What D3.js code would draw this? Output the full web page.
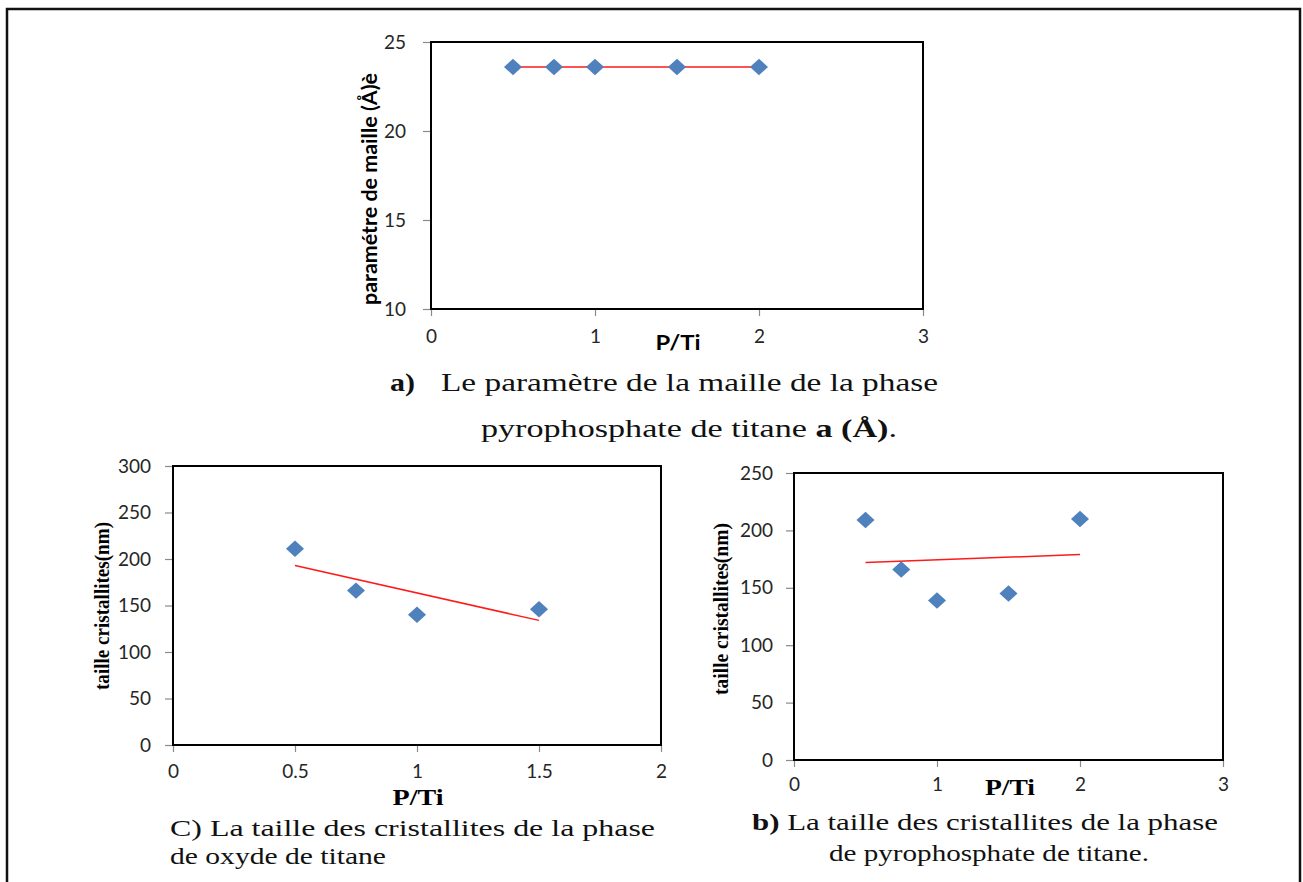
<!DOCTYPE html>
<html><head><meta charset="utf-8">
<script src="https://cdn.jsdelivr.net/npm/d3@7"></script>
<style>body{margin:0;background:#fff}svg{display:block}</style>
</head><body>
<svg id="c" width="1303" height="882"></svg>
<script>
// ---------- data ----------
const ratioTop = [0.5, 0.75, 1, 1.5, 2];
const paramTop = [23.6, 23.6, 23.6, 23.6, 23.6];
const trendTopX = [0.5, 2];
const trendTopY = [23.6, 23.6];

const ratioOxyde = [0.5, 0.75, 1, 1.5];
const tailleOxyde = [211, 166, 140, 146];
const trendOxydeX = [0.5, 1.5];
const trendOxydeY = [193, 134];

const ratioPyro = [0.5, 0.75, 1, 1.5, 2];
const taillePyro = [209, 166, 139, 145, 210];
const trendPyroX = [0.5, 2];
const trendPyroY = [172, 179];

const ticksTopX = [0, 1, 2, 3];
const ticksTopY = [10, 15, 20, 25];
const ticksOxX = [0, 0.5, 1, 1.5, 2];
const ticksOxY = [0, 50, 100, 150, 200, 250, 300];
const ticksPyX = [0, 1, 2, 3];
const ticksPyY = [0, 50, 100, 150, 200, 250];

const svg = d3.select("#c");

// outer frame
svg.append("path")
  .attr("d", "M7,882 V9 H1300 V882")
  .attr("fill", "none").attr("stroke", "#111").attr("stroke-width", 2.5);

function panel(o) {
  const x = d3.scaleLinear().domain(o.xd).range([o.l, o.r]);
  const y = d3.scaleLinear().domain(o.yd).range([o.b, o.t]);
  const g = svg.append("g");
  const ax = g.append("g").attr("transform", `translate(0,${o.b})`)
    .call(d3.axisBottom(x).tickValues(o.tx).tickSize(7).tickPadding(o.xpad).tickFormat(d3.format("")));
  const ay = g.append("g").attr("transform", `translate(${o.l},0)`)
    .call(d3.axisLeft(y).tickValues(o.ty).tickSize(8).tickPadding(o.ypad).tickFormat(d3.format("")));
  [ax, ay].forEach(a => {
    a.select(".domain").remove();
    a.selectAll(".tick line").attr("stroke", "#8a8a8a").attr("stroke-width", 1.2);
    a.selectAll(".tick text").attr("fill", "#262626")
      .style("font-family", "Lato, 'Open Sans', sans-serif").style("font-size", "19px");
  });
  g.append("rect").attr("x", o.l).attr("y", o.t)
    .attr("width", o.r - o.l).attr("height", o.b - o.t)
    .attr("fill", "none").attr("stroke", "#000").attr("stroke-width", 2);
  // trend line
  g.append("line")
    .attr("x1", x(o.trX[0])).attr("y1", y(o.trY[0]))
    .attr("x2", x(o.trX[1])).attr("y2", y(o.trY[1]))
    .attr("stroke", "#ff1a1a").attr("stroke-width", 1.5);
  // diamond markers
  g.selectAll("path.pt").data(o.xs.map((v, i) => [v, o.ys[i]])).enter()
    .append("path").attr("class", "pt")
    .attr("d", d3.symbol().type(d3.symbolSquare).size(135)())
    .attr("transform", d => `translate(${x(d[0])},${y(d[1])}) scale(1.1,1) rotate(45)`)
    .attr("fill", "#4f81bd");
  // titles
  g.append("text").attr("transform", `translate(${o.ytx},${o.yty}) rotate(-90)`)
    .attr("text-anchor", "middle").attr("dominant-baseline", "central")
    .attr("textLength", o.ytl).attr("lengthAdjust", "spacingAndGlyphs")
    .style("font-family", o.tfont).style("font-weight", "bold").style("font-size", o.ytfs + "px")
    .attr("fill", "#000").text(o.ytitle);
  g.append("text").attr("x", o.xtx).attr("y", o.xty)
    .attr("text-anchor", "middle").attr("dominant-baseline", "central")
    .attr("textLength", o.xtl).attr("lengthAdjust", "spacingAndGlyphs")
    .style("font-family", o.tfont).style("font-weight", "bold").style("font-size", o.xtfs + "px")
    .attr("fill", "#000").text("P/Ti");
}

panel({l: 431, r: 923, t: 42, b: 309, xd: [0, 3], yd: [10, 25], tx: ticksTopX, ty: ticksTopY,
  xpad: 14, ypad: 17, xs: ratioTop, ys: paramTop, trX: trendTopX, trY: trendTopY,
  tfont: "Lato, 'Open Sans', sans-serif", ytitle: "paramétre de maille (Å)è", ytx: 368, yty: 189, ytl: 232, ytfs: 21,
  xtx: 678, xty: 342, xtfs: 20, xtl: 45});

panel({l: 173, r: 661, t: 466, b: 745, xd: [0, 2], yd: [0, 300], tx: ticksOxX, ty: ticksOxY,
  xpad: 13, ypad: 14, xs: ratioOxyde, ys: tailleOxyde, trX: trendOxydeX, trY: trendOxydeY,
  tfont: "'Liberation Serif', 'Times New Roman', serif", ytitle: "taille cristallites(nm)", ytx: 101, yty: 606, ytl: 168, ytfs: 22,
  xtx: 418, xty: 797, xtfs: 24, xtl: 51});

panel({l: 794, r: 1223, t: 473, b: 760, xd: [0, 3], yd: [0, 250], tx: ticksPyX, ty: ticksPyY,
  xpad: 11, ypad: 13, xs: ratioPyro, ys: taillePyro, trX: trendPyroX, trY: trendPyroY,
  tfont: "'Liberation Serif', 'Times New Roman', serif", ytitle: "taille cristallites(nm)", ytx: 720, yty: 609, ytl: 172, ytfs: 22,
  xtx: 1010, xty: 787, xtfs: 24, xtl: 50});

// captions
const serif = "'Liberation Serif', 'Times New Roman', serif";
function cap(x, y, parts, len, fs) {
  const t = svg.append("text").attr("x", x).attr("y", y)
    .style("font-family", serif).style("font-size", fs + "px").attr("fill", "#111");
  if (len) t.attr("textLength", len).attr("lengthAdjust", "spacingAndGlyphs");
  parts.forEach(p => t.append("tspan").style("font-weight", p[1] ? "bold" : "normal").text(p[0]));
}
cap(390, 391, [["a)", 1]], 25, 25);
cap(441, 391, [["Le paramètre de la maille de la phase", 0]], 497, 25);
cap(481, 437, [["pyrophosphate de titane ", 0], ["a (Å)", 1], [".", 0]], 416, 25);
cap(170, 836, [["C) La taille des cristallites de la phase", 0]], 485, 23);
cap(170, 864, [["de oxyde de titane", 0]], 216, 23);
cap(752, 830, [["b)", 1], [" La taille des cristallites de la phase", 0]], 466, 23);
cap(829, 861, [["de pyrophosphate de titane.", 0]], 320, 23);
</script>
</body></html>
